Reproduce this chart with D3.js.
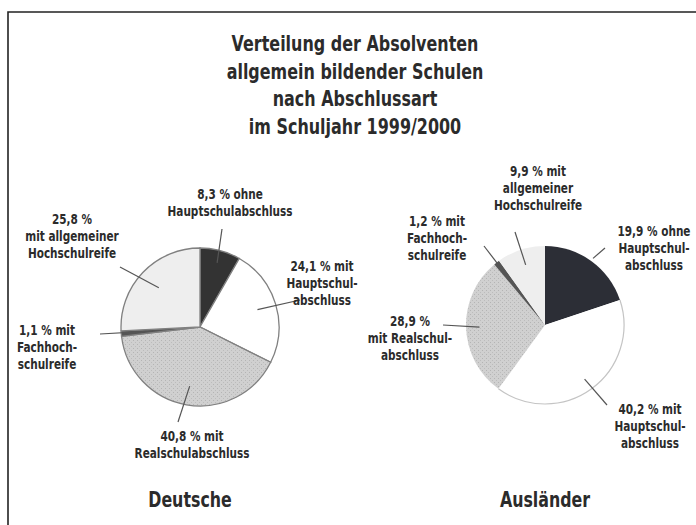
<!DOCTYPE html>
<html>
<head>
<meta charset="utf-8">
<script src="https://cdn.jsdelivr.net/npm/d3@7"></script>
<style>
  body { margin: 0; background: #fff; }
  svg { display: block; }
  text { font-family: "DejaVu Sans", sans-serif; font-weight: bold; fill: #2b2b2b; }
</style>
</head>
<body>
<div id="chart-area"></div>
<script>
// Data
const titleLines = ['Verteilung der Absolventen', 'allgemein bildender Schulen', 'nach Abschlussart', 'im Schuljahr 1999/2000'];
const groups = ['Deutsche', 'Ausländer'];
const categories = ['ohne Hauptschulabschluss', 'mit Hauptschulabschluss', 'mit Realschulabschluss', 'mit Fachhochschulreife', 'mit allgemeiner Hochschulreife'];
const deutscheValues = [8.3, 24.1, 40.8, 1.1, 25.8];
const auslaenderValues = [19.9, 40.2, 28.9, 1.2, 9.9];
const deutscheLabels = [
    ['8,3 % ohne', 'Hauptschulabschluss'],
    ['24,1 % mit', 'Hauptschul-', 'abschluss'],
    ['40,8 % mit', 'Realschulabschluss'],
    ['1,1 % mit', 'Fachhoch-', 'schulreife'],
    ['25,8 %', 'mit allgemeiner', 'Hochschulreife']
];
const auslaenderLabels = [
    ['19,9 % ohne', 'Hauptschul-', 'abschluss'],
    ['40,2 % mit', 'Hauptschul-', 'abschluss'],
    ['28,9 %', 'mit Realschul-', 'abschluss'],
    ['1,2 % mit', 'Fachhoch-', 'schulreife'],
    ['9,9 % mit', 'allgemeiner', 'Hochschulreife']
];

const width = 696;
const height = 525;
const lineH = 17;

const svg = d3.select('#chart-area')
    .append('svg')
    .attr('width', width)
    .attr('height', height);

// condensed look: squeeze the text horizontally
const addText = (x, y, lines, size, sx, step) => {
    svg.append('text')
        .attr('transform', 'translate(' + x + ', ' + y + ') scale(' + sx + ', 1)')
        .attr('text-anchor', 'middle')
        .attr('font-size', size + 'px')
        .selectAll('tspan')
        .data(lines)
        .enter()
        .append('tspan')
        .attr('x', 0)
        .attr('dy', (d, j) => j === 0 ? 0 : step)
        .text((d) => d);
};

// Pattern for the dotted grey slice
const defs = svg.append('defs');
const pat = defs.append('pattern')
    .attr('id', 'dots')
    .attr('width', 4)
    .attr('height', 4)
    .attr('patternUnits', 'userSpaceOnUse');
pat.append('rect').attr('width', 4).attr('height', 4).attr('fill', '#d0d0d0');
pat.append('rect').attr('x', 1).attr('y', 1).attr('width', 1).attr('height', 1).attr('fill', '#b4b4b4');
pat.append('rect').attr('x', 3).attr('y', 3).attr('width', 1).attr('height', 1).attr('fill', '#bcbcbc');

// Frame
svg.append('path')
    .attr('d', 'M8,525 V12 H696')
    .attr('fill', 'none')
    .attr('stroke', '#222')
    .attr('stroke-width', 1.6);

// Title
addText(355, 51, titleLines, 21, 0.76, 27.7);

const color = d3.scaleOrdinal()
    .domain(categories)
    .range(['#333', '#fff', 'url(#dots)', '#555', '#eeeeee']);

const pie = d3.pie().sort(null).value((d) => d.value);

const radius = 79;
const arc = d3.arc().innerRadius(0).outerRadius(radius);

// Layout of each pie: centre, label anchors and leader geometry
const charts = [
    {
        name: groups[0], values: deutscheValues, labels: deutscheLabels,
        cx: 200, cy: 327, darkFill: '#333', stroke: '#808080', titleX: 190,
        labelPos: [[230, 199], [322, 271], [192, 441], [47, 335], [72, 224]],
        leaderIn: [0.84, 0.76, 0.76, 0.68, 0.72],
        leaderOut: [[222, 229], [300, 300], [178, 422], [100, 334], [120, 267]]
    },
    {
        name: groups[1], values: auslaenderValues, labels: auslaenderLabels,
        cx: 545, cy: 325, darkFill: '#2c2e36', stroke: null, titleX: 545,
        labelPos: [[654, 236], [650, 414], [410, 326], [437, 226], [538, 176]],
        leaderIn: [1.04, 0.85, 0.83, 0.8, 0.8],
        leaderOut: [[605, 248], [607, 405], [443, 325], [484, 246], [515, 232]]
    }
];

charts.forEach((c) => {
    const data = c.values.map((v, i) => ({ cat: categories[i], value: v }));
    const arcs = pie(data);
    const g = svg.append('g')
        .attr('transform', 'translate(' + c.cx + ', ' + c.cy + ')');

    g.selectAll('path.slice')
        .data(arcs)
        .enter()
        .append('path')
        .attr('class', 'slice')
        .attr('d', arc)
        .attr('fill', (d, i) => i === 0 ? c.darkFill : color(d.data.cat))
        .attr('stroke', c.stroke || 'none')
        .attr('stroke-width', 1.3);

    // faint outline round the white slice of the second pie
    if (!c.stroke) {
        const w = arcs[1];
        g.append('path')
            .attr('d', d3.arc().innerRadius(radius).outerRadius(radius)
                .startAngle(w.startAngle).endAngle(w.endAngle)())
            .attr('fill', 'none')
            .attr('stroke', '#c4c4c4')
            .attr('stroke-width', 1.2);
    }

    // leaders
    arcs.forEach((d, i) => {
        const a = (d.startAngle + d.endAngle) / 2;
        const r = radius * c.leaderIn[i];
        g.append('line')
            .attr('x1', Math.sin(a) * r)
            .attr('y1', -Math.cos(a) * r)
            .attr('x2', c.leaderOut[i][0] - c.cx)
            .attr('y2', c.leaderOut[i][1] - c.cy)
            .attr('stroke', '#555')
            .attr('stroke-width', 1.2);
    });

    // labels
    c.labels.forEach((lines, i) => {
        addText(c.labelPos[i][0], c.labelPos[i][1], lines, 14, 0.75, lineH);
    });

    addText(c.titleX, 507, [c.name], 22, 0.72, 0);
});
</script>
</body>
</html>
